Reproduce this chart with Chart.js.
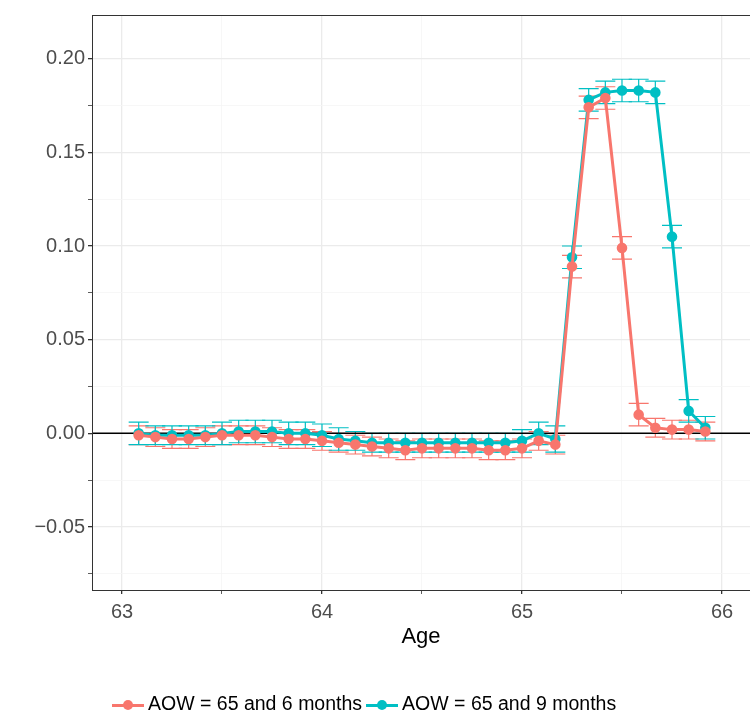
<!DOCTYPE html>
<html><head><meta charset="utf-8">
<script src="https://cdn.jsdelivr.net/npm/chart.js@4"></script>
<style>
body{margin:0;background:#fff;font-family:"Liberation Sans",Arial,sans-serif;overflow:hidden}
#wrap{position:relative;width:750px;height:718px;overflow:hidden}
#legend{position:absolute;top:691px;left:112px;white-space:nowrap;font-size:19.5px;color:#000}
.item{display:inline-block;vertical-align:middle;margin-right:4px}
.key{display:inline-block;position:relative;width:36px;height:20px;vertical-align:middle}
.key .ln{position:absolute;left:0px;right:4px;top:9px;height:3px}
.key .pt{position:absolute;left:11px;top:5px;width:10px;height:10px;border-radius:50%}
</style></head><body>
<div id="wrap"><canvas id="c" width="760" height="718"></canvas>
<div id="legend"></div></div>
<script>
var months=[];for(var m=1;m<=35;m++)months.push(63+m/12)
var xTicks=[63,63.5,64,64.5,65,65.5,66]
var labels=["AOW = 65 and 6 months","AOW = 65 and 9 months"]
var colors=["#F8766D","#00BFC4"]
var red=[-0.001,-0.002,-0.003,-0.003,-0.002,-0.001,-0.001,-0.001,-0.002,-0.003,-0.003,-0.004,
 -0.005,-0.006,-0.007,-0.008,-0.009,-0.008,-0.008,-0.008,-0.008,-0.009,-0.009,-0.008,
 -0.004,-0.006,0.089,0.174,0.179,0.099,0.010,0.003,0.002,0.002,0.001]
var cyan=[0,-0.001,-0.001,-0.001,-0.001,0,0.001,0.001,0.001,0,0,-0.001,
 -0.003,-0.004,-0.005,-0.005,-0.005,-0.005,-0.005,-0.005,-0.005,-0.005,-0.005,-0.004,
 0,-0.003,0.094,0.178,0.182,0.183,0.183,0.182,0.105,0.012,0.003]
var redErr=[0.005,0.005,0.005,0.005,0.005,0.005,0.005,0.005,0.005,0.005,0.005,0.005,
 0.005,0.005,0.005,0.005,0.005,0.005,0.005,0.005,0.005,0.005,0.005,0.005,
 0.005,0.005,0.006,0.006,0.006,0.006,0.006,0.005,0.005,0.005,0.005]
var cyanErr=[0.006,0.005,0.005,0.005,0.005,0.006,0.006,0.006,0.006,0.006,0.006,0.006,
 0.006,0.005,0.005,0.005,0.005,0.005,0.005,0.005,0.005,0.005,0.005,0.006,
 0.006,0.007,0.006,0.006,0.006,0.006,0.006,0.006,0.006,0.006,0.006]

function pts(v){return months.map(function(x,i){return {x:x,y:v[i]}})}
var errs=[redErr,cyanErr]
var FONT='"Liberation Sans",Arial'

var errorBars={id:'errorBars',beforeDatasetsDraw:function(ch){
  var c=ch.ctx,xs=ch.scales.x,ys=ch.scales.y
  c.save();c.lineWidth=1.2
  ch.data.datasets.forEach(function(ds,d){
    c.strokeStyle=colors[d]
    ds.data.forEach(function(p,i){
      var px=xs.getPixelForValue(p.x),lo=ys.getPixelForValue(p.y-errs[d][i]),hi=ys.getPixelForValue(p.y+errs[d][i])
      var hw=xs.getPixelForValue(p.x+0.05)-px
      c.beginPath();c.moveTo(px,lo);c.lineTo(px,hi)
      c.moveTo(px-hw,lo);c.lineTo(px+hw,lo);c.moveTo(px-hw,hi);c.lineTo(px+hw,hi);c.stroke()
    })
  })
  c.restore()
}}
var frame={id:'frame',beforeDatasetsDraw:function(ch){
  var c=ch.ctx,a=ch.chartArea,y0=ch.scales.y.getPixelForValue(0)
  c.save();c.strokeStyle='#000';c.lineWidth=1.5
  c.beginPath();c.moveTo(a.left,y0);c.lineTo(a.right,y0);c.stroke()
  c.restore()
},afterDraw:function(ch){
  var c=ch.ctx,a=ch.chartArea
  c.save();c.strokeStyle='#333';c.lineWidth=1
  c.strokeRect(a.left+0.5,a.top+0.5,a.right-a.left,a.bottom-a.top);c.restore()
}}
function major(v,step){return Math.abs(v/step-Math.round(v/step))<1e-6}

new Chart(document.getElementById('c'),{
  type:'scatter',
  data:{datasets:[
    {label:labels[0],data:pts(red),showLine:true,borderColor:colors[0],backgroundColor:colors[0],borderWidth:3,pointRadius:3.8,pointHoverRadius:3.8},
    {label:labels[1],data:pts(cyan),showLine:true,borderColor:colors[1],backgroundColor:colors[1],borderWidth:3,pointRadius:3.8,pointHoverRadius:3.8}
  ]},
  options:{
    responsive:false,animation:false,
    layout:{padding:{top:4,right:10,bottom:64,left:0}},
    plugins:{legend:{display:false},tooltip:{enabled:false}},
    scales:{
      x:{type:'linear',min:62.85,max:66.14,
        afterFit:function(s){s.height=64;s.paddingRight=0},
        border:{display:false},
        afterBuildTicks:function(s){s.ticks=xTicks.map(function(v){return {value:v}})},
        grid:{color:function(c){return major(c.tick.value,1)?'#ebebeb':'#f5f5f5'},lineWidth:function(c){return major(c.tick.value,1)?1.3:0.8},tickLength:4,tickColor:'#333'},
        ticks:{autoSkip:false,maxRotation:0,padding:6,color:'#4d4d4d',font:{size:20,family:FONT},
          callback:function(v){return major(v,1)?String(v):''}},
        title:{display:true,text:'Age',color:'#000',font:{size:22,family:FONT},padding:{top:10}}
      },
      y:{min:-0.0836,max:0.2233,
        afterFit:function(s){s.width=92},
        border:{display:false},
        afterBuildTicks:function(s){var t=[];for(var k=-3;k<=8;k++)t.push({value:k*0.025});s.ticks=t},
        grid:{color:function(c){return major(c.tick.value,0.05)?'#ebebeb':'#f5f5f5'},lineWidth:function(c){return major(c.tick.value,0.05)?1.3:0.8},tickLength:4,tickColor:'#333'},
        ticks:{color:'#4d4d4d',font:{size:20,family:FONT},
          callback:function(v){if(!major(v,0.05))return '';return (v<-1e-9?'\u2212':'')+Math.abs(v).toFixed(2)}}
      }
    }
  },
  plugins:[errorBars,frame]
})

var lg=document.getElementById('legend')
labels.forEach(function(l,i){
  var s=document.createElement('span');s.className='item'
  s.innerHTML='<span class="key"><span class="ln" style="background:'+colors[i]+'"></span><span class="pt" style="background:'+colors[i]+'"></span></span>'+l
  lg.appendChild(s)
})
</script></body></html>
